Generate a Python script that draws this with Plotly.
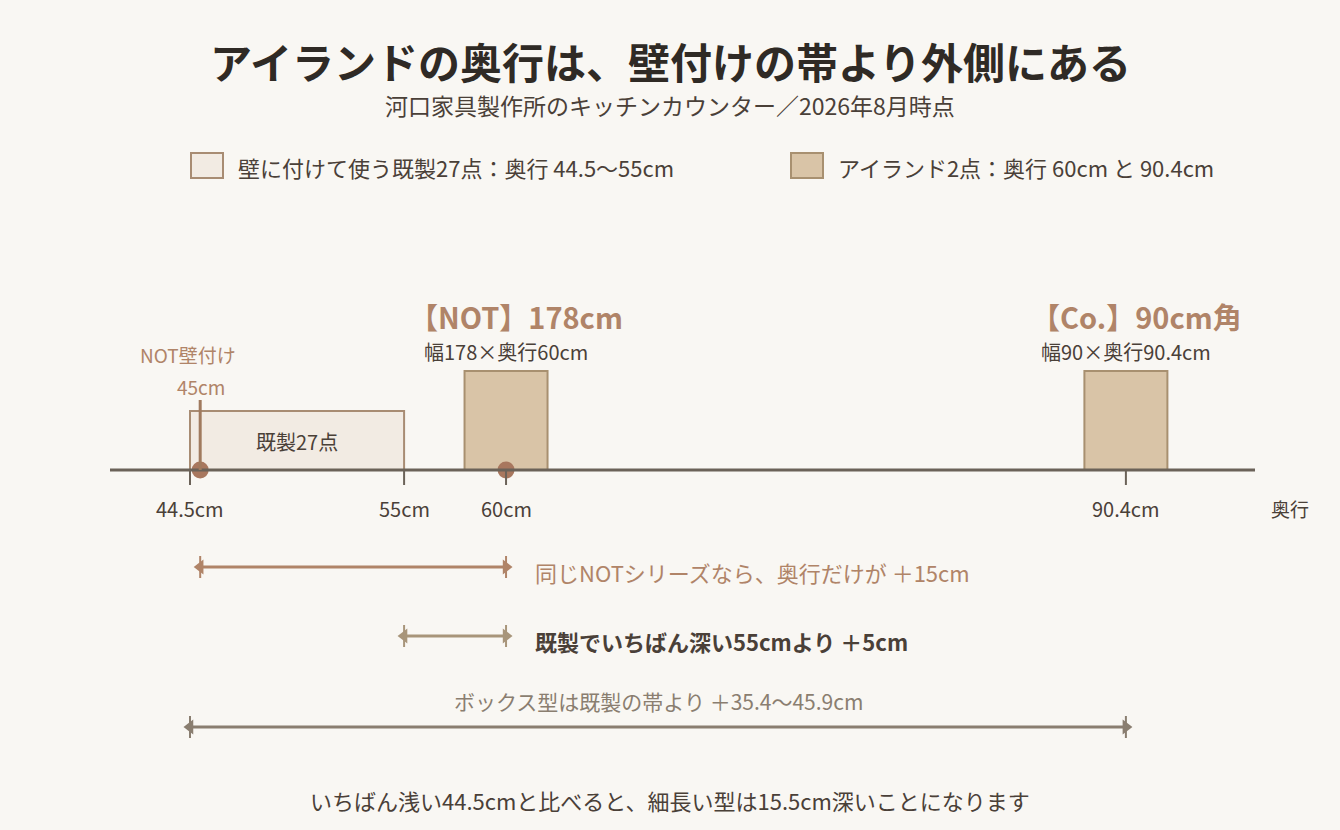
import plotly.graph_objects as go

# data (depth in cm)
wall_min, wall_max = 44.5, 55
not_wall = 45
island_depths = [60, 90.4]
island_names = ["【NOT】178cm", "【Co.】90cm角"]
island_sizes = ["幅178×奥行60cm", "幅90×奥行90.4cm"]
tick_vals = [44.5, 55, 60, 90.4]
tick_text = ["44.5cm", "55cm", "60cm", "90.4cm"]
spans = [(45, 60), (55, 60), (44.5, 90.4)]
span_labels = ["同じNOTシリーズなら、奥行だけが ＋15cm",
               "既製でいちばん深い55cmより ＋5cm",
               "ボックス型は既製の帯より ＋35.4〜45.9cm"]

BG = "#f9f7f3"
AX = "#6b6258"
ACC = "#b08468"
DARK = "#4a4038"
FONT = "Noto Sans CJK JP"

# pixel helper for layout (1 cm = 20.39 px, 44.5cm at x=190)
K = 20.39
X0 = 44.5 - 190 / K
def px(p):
    return X0 + p / K

fig = go.Figure()
shapes, ann = [], []

# axis
shapes.append(dict(type="line", x0=px(110), x1=px(1255), y0=470, y1=470, line=dict(color=AX, width=3)))
for v, t in zip(tick_vals, tick_text):
    shapes.append(dict(type="line", x0=v, x1=v, y0=470, y1=485, line=dict(color=AX, width=2)))
    ann.append(dict(x=v, y=508, text=t, showarrow=False, font=dict(size=20, color=DARK)))
ann.append(dict(x=px(1290), y=508, text="奥行", showarrow=False, font=dict(size=19, color=DARK)))

# wall band
shapes.append(dict(type="rect", x0=wall_min, x1=wall_max, y0=411, y1=470,
                   fillcolor="#f2ebe3", line=dict(color="#a88c73", width=2), layer="below"))
ann.append(dict(x=(wall_min + wall_max) / 2, y=441, text="既製27点", showarrow=False, font=dict(size=20, color=DARK)))

# NOT wall 45
shapes.append(dict(type="line", x0=not_wall, x1=not_wall, y0=400, y1=470, line=dict(color="#a07a5e", width=3)))
ann.append(dict(x=px(188), y=354, text="NOT壁付け", showarrow=False, font=dict(size=19, color=ACC)))
ann.append(dict(x=px(201), y=386, text="45cm", showarrow=False, font=dict(size=19, color=ACC)))

# islands
hw = 41.5 / K
for d, n, s in zip(island_depths, island_names, island_sizes):
    shapes.append(dict(type="rect", x0=d - hw, x1=d + hw, y0=371, y1=470,
                       fillcolor="#d9c4a7", line=dict(color="#a89070", width=2), layer="below"))
    ann.append(dict(x=d + 0.5, y=316, text="<b>" + n + "</b>", showarrow=False, font=dict(size=29, color=ACC)))
    ann.append(dict(x=d, y=351, text=s, showarrow=False, font=dict(size=20, color=DARK)))

fig.add_trace(go.Scatter(x=[not_wall, island_depths[0]], y=[470, 470], mode="markers",
                         marker=dict(size=17, color="#a8775e"), hoverinfo="skip"))

# spans
span_y = [567, 636, 727]
span_col = [ACC, "#a8957a", "#8a7e70"]
for (a, b), lab, y, c in zip(spans, span_labels, span_y, span_col):
    fig.add_trace(go.Scatter(x=[a, b], y=[y, y], mode="lines+markers",
                             line=dict(color=c, width=3),
                             marker=dict(symbol=["triangle-left", "triangle-right"], size=13, color=c),
                             hoverinfo="skip"))
    for v in (a, b):
        shapes.append(dict(type="line", x0=v, x1=v, y0=y - 11, y1=y + 11, line=dict(color=c, width=2)))
ann.append(dict(x=px(533), y=572, text=span_labels[0], showarrow=False, xanchor="left", font=dict(size=22, color=ACC)))
ann.append(dict(x=px(533), y=641, text="<b>" + span_labels[1] + "</b>", showarrow=False, xanchor="left", font=dict(size=22, color=DARK)))
ann.append(dict(x=px(658), y=701, text=span_labels[2], showarrow=False, font=dict(size=21, color="#8a7e70")))

# legend
shapes.append(dict(type="rect", x0=px(191), x1=px(223), y0=153, y1=178, fillcolor="#f2ebe3", line=dict(color="#a88c73", width=2)))
ann.append(dict(x=px(236), y=167, text="壁に付けて使う既製27点：奥行 44.5〜55cm", showarrow=False, xanchor="left", font=dict(size=22, color=DARK)))
shapes.append(dict(type="rect", x0=px(791), x1=px(823), y0=153, y1=178, fillcolor="#d9c4a7", line=dict(color="#a89070", width=2)))
ann.append(dict(x=px(836), y=167, text="アイランド2点：奥行 60cm と 90.4cm", showarrow=False, xanchor="left", font=dict(size=22, color=DARK)))

# titles
ann.append(dict(x=px(670), y=60, text="<b>アイランドの奥行は、壁付けの帯より外側にある</b>", showarrow=False, font=dict(size=42, color="#2f2a25")))
ann.append(dict(x=px(670), y=105, text="河口家具製作所のキッチンカウンター／2026年8月時点", showarrow=False, font=dict(size=23, color=DARK)))
ann.append(dict(x=px(670), y=800, text="いちばん浅い44.5cmと比べると、細長い型は15.5cm深いことになります", showarrow=False, font=dict(size=22, color=DARK)))

fig.update_layout(
    width=1340, height=830, margin=dict(l=0, r=0, t=0, b=0),
    paper_bgcolor=BG, plot_bgcolor=BG, showlegend=False,
    font=dict(family=FONT),
    xaxis=dict(range=[px(0), px(1340)], visible=False, fixedrange=True),
    yaxis=dict(range=[830, 0], visible=False, fixedrange=True),
    shapes=shapes, annotations=ann,
)
fig.write_html("out.html", config={"displayModeBar": False},
               post_script="document.body.style.margin='0';document.body.style.background='#f9f7f3';")
